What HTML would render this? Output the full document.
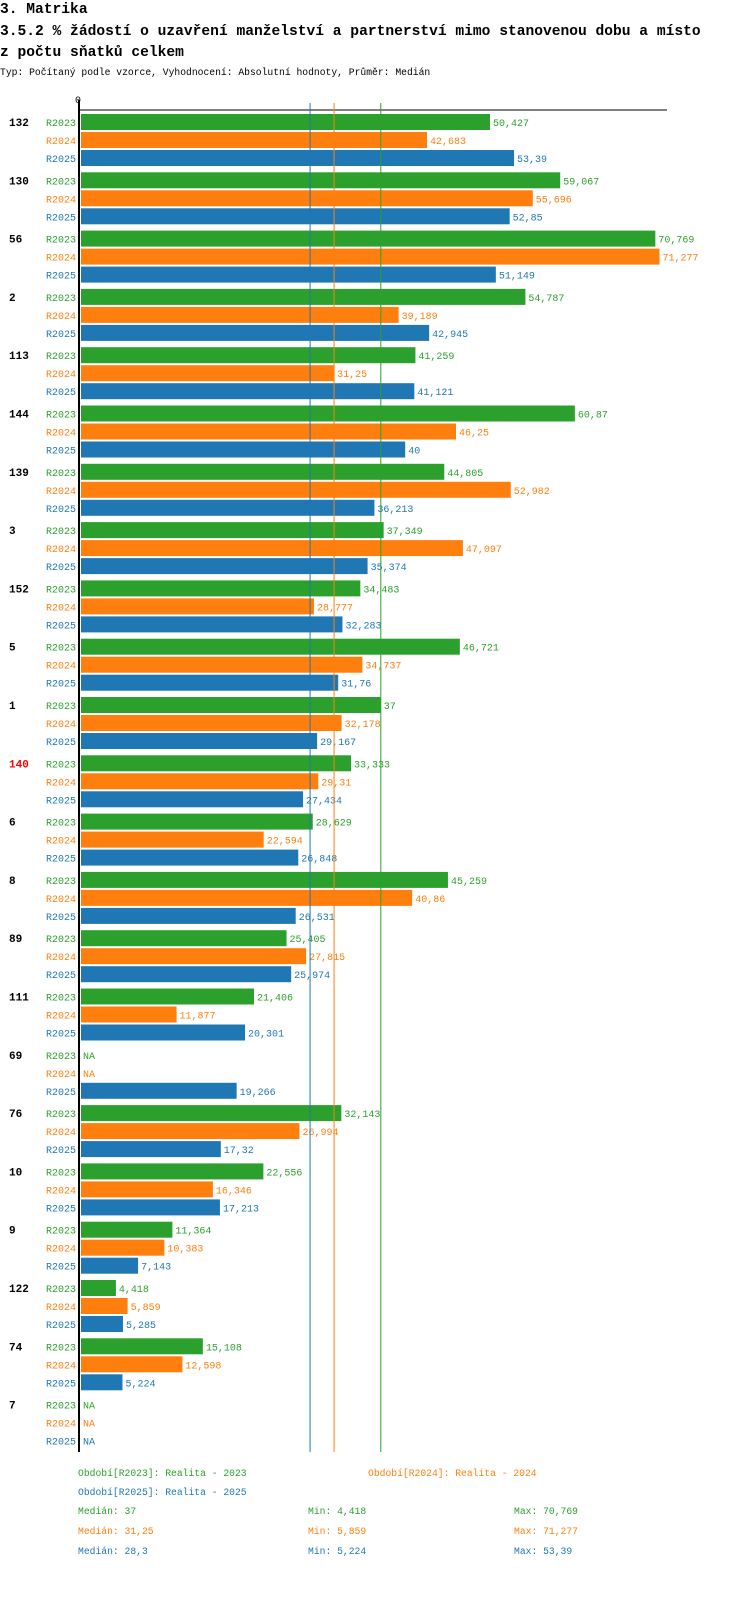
<!DOCTYPE html>
<html><head><meta charset="utf-8"><style>
body{margin:0;background:#fff;width:750px;height:1614px;overflow:hidden;font-family:"Liberation Mono","DejaVu Sans Mono",monospace}
svg{position:absolute;left:0;top:0}
</style></head><body>
<svg id="c" width="750" height="1614" xmlns="http://www.w3.org/2000/svg">
<text x="0" y="13" font-size="14.6" font-weight="bold" font-family="Liberation Mono, monospace">3. Matrika</text>
<text x="0" y="35" font-size="14.6" font-weight="bold" font-family="Liberation Mono, monospace">3.5.2 % žádostí o uzavření manželství a partnerství mimo stanovenou dobu a místo</text>
<text x="0" y="56" font-size="14.6" font-weight="bold" font-family="Liberation Mono, monospace">z počtu sňatků celkem</text>
<text x="0" y="75" font-size="9.7" font-family="Liberation Mono, monospace">Typ: Počítaný podle vzorce, Vyhodnocení: Absolutní hodnoty, Průměr: Medián</text>
</svg>
<script>
const categories=["132","130","56","2","113","144","139","3","152","5","1","140","6","8","89","111","69","76","10","9","122","74","7"];
const r2023=[50.427,59.067,70.769,54.787,41.259,60.87,44.805,37.349,34.483,46.721,37,33.333,28.629,45.259,25.405,21.406,null,32.143,22.556,11.364,4.418,15.108,null];
const r2024=[42.683,55.696,71.277,39.189,31.25,46.25,52.982,47.097,28.777,34.737,32.178,29.31,22.594,40.86,27.815,11.877,null,26.994,16.346,10.383,5.859,12.598,null];
const r2025=[53.39,52.85,51.149,42.945,41.121,40,36.213,35.374,32.283,31.76,29.167,27.434,26.848,26.531,25.974,20.301,19.266,17.32,17.213,7.143,5.285,5.224,null];
const medians=[37,31.25,28.3];
const mins=[4.418,5.859,5.224];
const maxs=[70.769,71.277,53.39];
const seriesNames=["R2023","R2024","R2025"];
const colors=["#2ca02c","#ff7f0e","#1f77b4"];
const svg=document.getElementById('c');
const NS="http://www.w3.org/2000/svg";
const X0=80,SC=8.13,G0=114,GS=58.3,RS=18,BH=16;
const x=v=>X0+v*SC;
function el(t,a,txt){const e=document.createElementNS(NS,t);for(const k in a)e.setAttribute(k,a[k]);if(txt!=null)e.textContent=txt;svg.appendChild(e);return e;}
const fmt=v=>String(v).replace('.',',');
const series=[r2023,r2024,r2025];
let e;
e=el('line',{x1:78,y1:110,x2:667,y2:110,stroke:'#000','stroke-width':1});


e=el('text',{x:x(0)-2,y:103,'font-size':10,'text-anchor':'middle'},'0');


categories.forEach((c,i)=>{
  const gy=G0+i*GS;
  e=el('text',{x:9,y:gy+12,'font-size':11,'font-weight':'bold',fill:c==="140"?'#ff0000':'#000'},c);
  
  
  series.forEach((s,j)=>{
    const y=gy+j*RS;
    e=el('text',{x:76,y:y+12,'font-size':10,'text-anchor':'end',fill:colors[j]},seriesNames[j]);
    
    
    const v=s[i];
    if(v!=null){
      e=el('rect',{x:X0+1,y:y,width:x(v)-X0-1,height:BH,fill:colors[j]});
      
      
    }
    e=el('text',{x:(v!=null?x(v):X0)+3,y:y+12,'font-size':10,fill:colors[j]},v!=null?fmt(v):'NA');
    
    
  });
});
medians.forEach((m,j)=>{
  e=el('line',{x1:x(m),y1:103,x2:x(m),y2:1452,stroke:colors[j],'stroke-width':1});
  
  
});
e=el('line',{x1:79,y1:100,x2:79,y2:1452,stroke:'#000','stroke-width':2});


const legPos=[[78,1476],[368,1476],[78,1495]];
seriesNames.forEach((n,j)=>{
  e=el('text',{x:legPos[j][0],y:legPos[j][1],'font-size':9.7,fill:colors[j]},'Období['+n+']: Realita - '+n.slice(1));
  
  
  const yy=1514+j*20;
  e=el('text',{x:78,y:yy,'font-size':9.7,fill:colors[j]},'Medián: '+fmt(medians[j]));
  
  
  e=el('text',{x:308,y:yy,'font-size':9.7,fill:colors[j]},'Min: '+fmt(mins[j]));
  
  
  e=el('text',{x:514,y:yy,'font-size':9.7,fill:colors[j]},'Max: '+fmt(maxs[j]));
  
  
});
</script>
</body></html>
